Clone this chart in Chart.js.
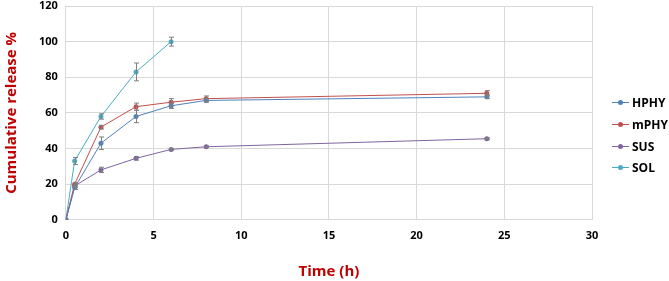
<!DOCTYPE html>
<html lang="en">
<head>
  <meta charset="UTF-8" />
  <title>Cumulative release</title>
  <script src="https://cdn.jsdelivr.net/npm/chart.js"></script>
  <style>
    html, body {
      margin: 0;
      padding: 0;
      background: #fff;
    }
    #wrap {
      position: relative;
      width: 669px;
      height: 281px;
    }
    #legend {
      position: absolute;
      left: 612px;
      top: 92px;
      font-family: 'Open Sans', sans-serif;
      font-size: 12px;
      font-weight: bold;
      color: #000;
    }
    #legend div {
      height: 21.7px;
      display: flex;
      align-items: center;
    }
    #legend canvas {
      margin-right: 3px;
    }
  </style>
</head>
<body>
  <div id="wrap">
    <canvas id="releaseChart"></canvas>
    <div id="legend"></div>
  </div>

  <script>
    // sampling times (h)
    const timesLong = [0, 0.5, 2, 4, 6, 8, 24];
    const timesSol = [0, 0.5, 2, 4, 6];

    // cumulative release %
    const hphy = [0, 18, 43, 58, 64, 67, 69];
    const mphy = [0, 20, 52, 63.5, 66, 68, 71];
    const sus = [0, 19, 28, 34.5, 39.5, 41, 45.5];
    const sol = [0, 33, 58, 83, 100];

    // standard deviations (error bars)
    const hphyErr = [0, 1, 3.5, 3.5, 1.5, 1, 1];
    const mphyErr = [0, 1, 1, 2, 2, 1.5, 1.5];
    const susErr = [0, 1, 1.5, 1, 0.5, 0.5, 0.5];
    const solErr = [0, 2, 1.5, 5, 2.5];

    const xTicks = [0, 5, 10, 15, 20, 25, 30];
    const yTicks = [0, 20, 40, 60, 80, 100, 120];

    const toPoints = (xs, ys) => xs.map((x, i) => ({ x: x, y: ys[i] }));

    function legendIcon(color) {
      const c = document.createElement('canvas');
      c.width = 17;
      c.height = 7;
      const g = c.getContext('2d');
      g.strokeStyle = color;
      g.lineWidth = 1;
      g.beginPath();
      g.moveTo(0, 3.5);
      g.lineTo(17, 3.5);
      g.stroke();
      g.fillStyle = color;
      g.beginPath();
      g.arc(8.5, 3.5, 2.5, 0, Math.PI * 2);
      g.fill();
      return c;
    }

    const series = [
      { label: 'HPHY', color: '#4F81BD', x: timesLong, y: hphy, err: hphyErr },
      { label: 'mPHY', color: '#C0504D', x: timesLong, y: mphy, err: mphyErr },
      { label: 'SUS', color: '#8064A2', x: timesLong, y: sus, err: susErr },
      { label: 'SOL', color: '#4BACC6', x: timesSol, y: sol, err: solErr }
    ];

    const datasets = series.map(s => ({
      label: s.label,
      data: toPoints(s.x, s.y),
      errors: s.err,
      borderColor: s.color,
      backgroundColor: s.color,
      borderWidth: 1,
      pointRadius: 2.5,
      pointHoverRadius: 2.5,
      pointBorderWidth: 0,
      tension: 0,
      showLine: true
    }));

    // error bars, drawn from each dataset's errors array
    const errorBars = {
      id: 'errorBars',
      afterDatasetsDraw(chart) {
        const ctx = chart.ctx;
        const xs = chart.scales.x;
        const ys = chart.scales.y;
        ctx.save();
        ctx.strokeStyle = '#7f7f7f';
        ctx.lineWidth = 1;
        chart.data.datasets.forEach(ds => {
          ds.data.forEach((p, i) => {
            const e = ds.errors[i];
            if (!e) return;
            const px = Math.round(xs.getPixelForValue(p.x)) + 0.5;
            const top = ys.getPixelForValue(p.y + e);
            const bot = ys.getPixelForValue(p.y - e);
            ctx.beginPath();
            ctx.moveTo(px, top);
            ctx.lineTo(px, bot);
            ctx.moveTo(px - 2.5, top);
            ctx.lineTo(px + 2.5, top);
            ctx.moveTo(px - 2.5, bot);
            ctx.lineTo(px + 2.5, bot);
            ctx.stroke();
          });
        });
        ctx.restore();
      }
    };

    const tickFont = { family: 'Open Sans', size: 11, weight: 'bold' };
    const titleFont = { family: 'Open Sans', size: 15, weight: 'bold' };

    new Chart(document.getElementById('releaseChart'), {
      type: 'scatter',
      data: { datasets: datasets },
      options: {
        responsive: true,
        maintainAspectRatio: false,
        animation: false,
        layout: { padding: { top: 0, right: 77, left: 3, bottom: 0 } },
        scales: {
          x: {
            type: 'linear',
            min: 0,
            max: 30,
            afterBuildTicks: axis => { axis.ticks = xTicks.map(v => ({ value: v })); },
            ticks: { font: tickFont, color: '#000', padding: 9 },
            grid: { color: '#D9D9D9', drawTicks: false },
            border: { color: '#D9D9D9' },
            title: {
              display: true,
              text: 'Time (h)',
              color: '#C00000',
              font: titleFont,
              padding: { top: 12, bottom: 0 }
            }
          },
          y: {
            min: 0,
            max: 120,
            afterBuildTicks: axis => { axis.ticks = yTicks.map(v => ({ value: v })); },
            afterFit: axis => { axis.paddingTop = 6; },
            ticks: { font: tickFont, color: '#000', padding: 8 },
            grid: { color: '#D9D9D9', drawTicks: false },
            border: { color: '#D9D9D9' },
            title: {
              display: true,
              text: 'Cumulative release %',
              color: '#C00000',
              font: titleFont,
              padding: { top: 0, bottom: 10 }
            }
          }
        },
        plugins: {
          legend: { display: false },
          tooltip: { enabled: false }
        }
      },
      plugins: [errorBars]
    });

    // legend on the right, built from the series list
    const legendBox = document.getElementById('legend');
    series.forEach(s => {
      const row = document.createElement('div');
      row.appendChild(legendIcon(s.color));
      const span = document.createElement('span');
      span.textContent = s.label;
      row.appendChild(span);
      legendBox.appendChild(row);
    });
  </script>
</body>
</html>
